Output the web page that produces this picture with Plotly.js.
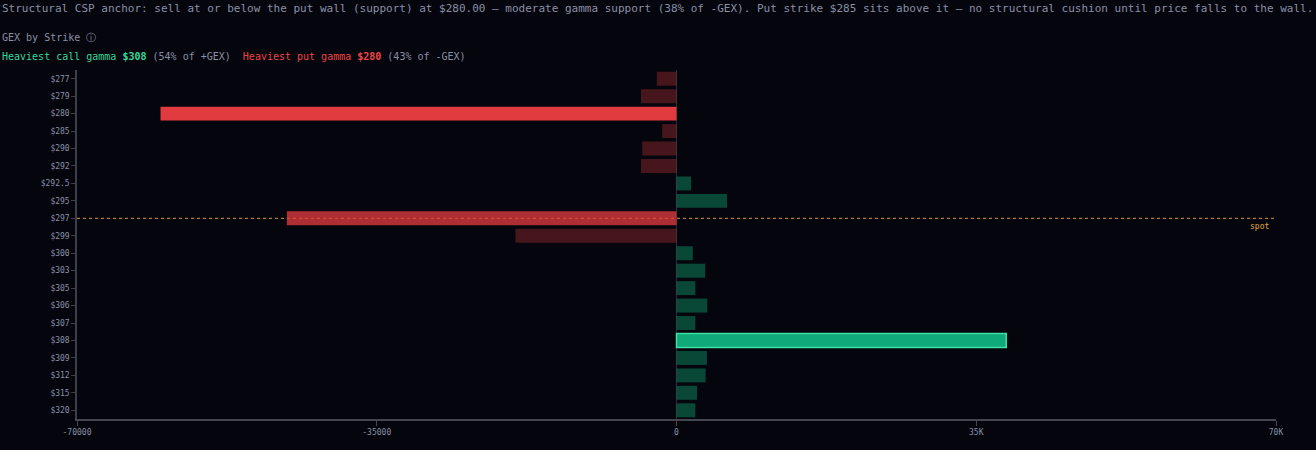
<!DOCTYPE html>
<html>
<head>
<meta charset="utf-8">
<script src="https://cdn.plot.ly/plotly-3.0.1.min.js"></script>
<style>
  html, body { margin: 0; padding: 0; background: #05060d; }
  #chart { width: 1316px; height: 450px; }
</style>
</head>
<body>
<div id="chart"></div>
<script>
// strikes top to bottom, net GEX per strike
var strikes = ['$277', '$279', '$280', '$285', '$290', '$292', '$292.5', '$295', '$297', '$299',
  '$300', '$303', '$305', '$306', '$307', '$308', '$309', '$312', '$315', '$320'];
var gex = [-2300, -4150, -60250, -1670, -4000, -4150, 1700, 5900, -45500, -18800,
  1900, 3350, 2200, 3600, 2200, 38500, 3550, 3400, 2400, 2200];
var spotStrike = '$297';
var xTickVals = [-70000, -35000, 0, 35000, 70000];
var xTickText = ['-70000', '-35000', '0', '35K', '70K'];
var headline = 'Structural CSP anchor: sell at or below the put wall (support) at $280.00 \u2014 moderate gamma support (38% of -GEX). Put strike $285 sits above it \u2014 no structural cushion until price falls to the wall.';

var MONO = '"DejaVu Sans Mono", "Liberation Mono", monospace';
var GRAY = '#8a8fa6';
var RED = '#e23b3f';
var GREEN = '#10a979';

// find heaviest call / put strikes
var callIdx = 0, putIdx = 0, callSum = 0, putSum = 0;
gex.forEach(function (v, i) {
  if (v > 0) { callSum += v; if (v > gex[callIdx] || gex[callIdx] <= 0) callIdx = i; }
  else { putSum += -v; if (v < gex[putIdx] || gex[putIdx] >= 0) putIdx = i; }
});
var callPct = Math.round(gex[callIdx] / callSum * 100);
var putPct = Math.round(-gex[putIdx] / putSum * 100);

var colors = gex.map(function (v, i) {
  if (i === callIdx) return GREEN;
  if (i === putIdx) return RED;
  if (strikes[i] === spotStrike) return v < 0 ? 'rgba(226,59,63,0.76)' : 'rgba(16,169,121,0.76)';
  return v < 0 ? 'rgba(226,59,63,0.30)' : 'rgba(16,169,121,0.40)';
});
var lineColors = gex.map(function (v, i) { return i === callIdx ? '#3ee0a6' : 'rgba(0,0,0,0)'; });
var lineWidths = gex.map(function (v, i) { return i === callIdx ? 1.5 : 0; });

var trace = {
  type: 'bar',
  orientation: 'h',
  y: strikes,
  x: gex,
  marker: { color: colors, line: { color: lineColors, width: lineWidths } },
  hoverinfo: 'y+x'
};

var sp = '\u00a0';
var layout = {
  width: 1316,
  height: 450,
  paper_bgcolor: '#05060d',
  plot_bgcolor: '#05060d',
  margin: { l: 77, r: 40, t: 70, b: 31 },
  bargap: 0.2,
  showlegend: false,
  font: { family: MONO, color: GRAY, size: 8 },
  xaxis: {
    range: [-70000, 70000],
    tickvals: xTickVals,
    ticktext: xTickText,
    showgrid: false,
    zeroline: true,
    zerolinecolor: '#2b2e3a',
    zerolinewidth: 1,
    showline: true,
    linecolor: '#44474f',
    linewidth: 1.5,
    ticks: 'outside',
    ticklen: 5,
    tickcolor: '#44474f',
    tickfont: { family: MONO, size: 8, color: GRAY }
  },
  yaxis: {
    type: 'category',
    categoryorder: 'array',
    categoryarray: strikes,
    autorange: 'reversed',
    showgrid: false,
    zeroline: false,
    showline: true,
    linecolor: '#3c3f4a',
    linewidth: 1.5,
    ticks: 'outside',
    ticklen: 4,
    tickcolor: '#3c3f4a',
    tickfont: { family: MONO, size: 8, color: GRAY }
  },
  shapes: [{
    type: 'line', layer: 'below',
    xref: 'paper', x0: 0, x1: 1,
    yref: 'y', y0: spotStrike, y1: spotStrike,
    line: { color: '#d99a2b', width: 1, dash: '3px,3px' }
  }],
  annotations: [
    {
      xref: 'paper', yref: 'paper', x: 0, y: 1, xanchor: 'left', yanchor: 'middle',
      xshift: -77, yshift: 61.5, showarrow: false,
      text: headline, font: { family: MONO, size: 11, color: GRAY }
    },
    {
      xref: 'paper', yref: 'paper', x: 0, y: 1, xanchor: 'left', yanchor: 'middle',
      xshift: -77, yshift: 32.5, showarrow: false,
      text: 'GEX by Strike ' + '\u24d8', font: { family: MONO, size: 10, color: GRAY }
    },
    {
      xref: 'paper', yref: 'paper', x: 0, y: 1, xanchor: 'left', yanchor: 'middle',
      xshift: -77, yshift: 13.5, showarrow: false,
      font: { family: MONO, size: 10, color: GRAY },
      text: '<span style="color:#34d89c">Heaviest call gamma <b>' + strikes[callIdx] + '</b></span> (' +
        callPct + '% of +GEX)' + sp + sp +
        '<span style="color:#ef4446">Heaviest put gamma <b>' + strikes[putIdx] + '</b></span> (' +
        putPct + '% of -GEX)'
    },
    {
      xref: 'paper', yref: 'y', x: 1, y: spotStrike, xanchor: 'right', yanchor: 'middle',
      xshift: -5, yshift: -8, showarrow: false,
      text: 'spot', font: { family: MONO, size: 8, color: '#e0a040' }
    }
  ]
};

Plotly.newPlot('chart', [trace], layout, { displayModeBar: false });
</script>
</body>
</html>
